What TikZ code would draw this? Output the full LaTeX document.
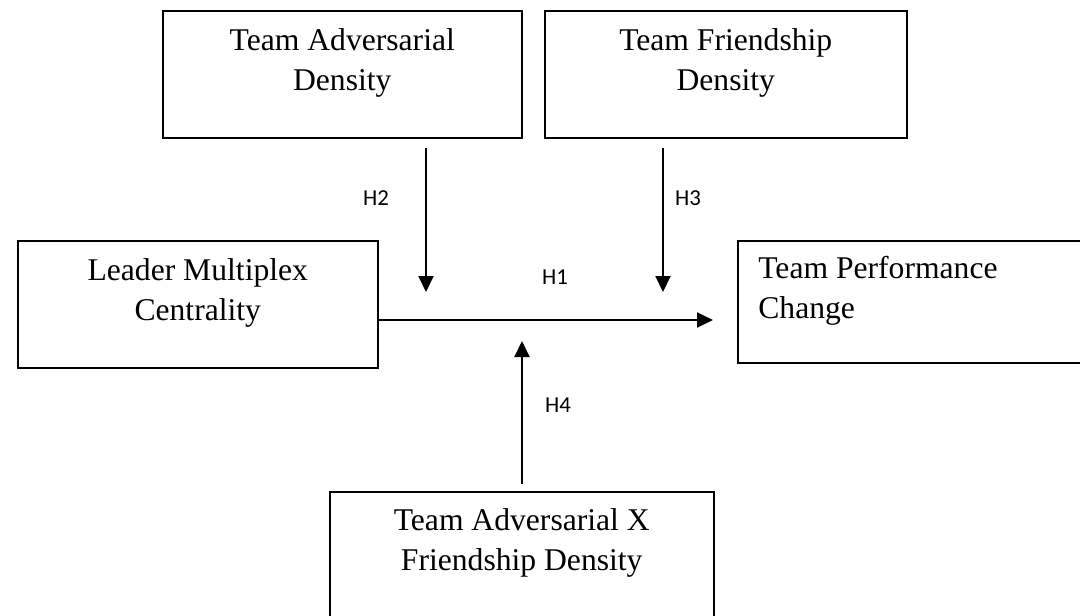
\documentclass[tikz,border=0pt]{standalone}
\usepackage{fontspec}
\setmainfont{Liberation Serif}
\newfontfamily\hypfont{Carlito}
\usetikzlibrary{arrows.meta}
\usetikzlibrary{calc}
\tikzset{
  box/.style={draw, line width=0.9pt, inner sep=0pt, anchor=north west},
  boxtext/.style={inner sep=0pt, anchor=base, align=center, font=\fontsize{18}{23.3}\selectfont},
  hyplabel/.style={inner sep=0pt, font=\hypfont\fontsize{13}{15}\selectfont},
  hyp/.style={line width=1.1pt, -{Triangle[length=0.32cm,width=0.3cm]}}
}

\begin{document}
\begin{tikzpicture}[x=0.02cm,y=-0.02cm]
  \clip (0,0) rectangle (1080,616);
  % boxes
  \node[box,minimum width=7.18cm,minimum height=2.54cm] (adv) at (162,10) {};
  \node[box,minimum width=7.24cm,minimum height=2.54cm] (friend) at (544,10) {};
  \node[box,minimum width=7.2cm,minimum height=2.54cm] (lead) at (17,240) {};
  \node[box,minimum width=7.0cm,minimum height=2.44cm] (perf) at (737,240) {};
  \node[box,minimum width=7.68cm,minimum height=2.68cm] (inter) at (329,491) {};
  % base is the last line, so go two lines down
  \node[boxtext] (advtext) at ([yshift=-1.62cm]adv.north) {Team Adversarial\\Density};
  \node[boxtext] (friendtext) at ([yshift=-1.62cm]friend.north) {Team Friendship\\Density};
  \node[boxtext] (leadtext) at ([yshift=-1.62cm]lead.north) {Leader Multiplex\\Centrality};
  \node[boxtext,anchor=base west,align=left] (perftext) at ([xshift=0.42cm,yshift=-1.58cm]perf.north west) {Team Performance\\Change};
  \node[boxtext] (intertext) at ([yshift=-1.6cm]inter.north) {Team Adversarial X\\Friendship Density};
  % hypotheses
  \coordinate (h1end) at (713,320);
  \coordinate (h2top) at (426,148);
  \coordinate (h2end) at (426,292);
  \coordinate (h3top) at (663,148);
  \coordinate (h3end) at (663,292);
  \coordinate (h4bot) at (522,484);
  \coordinate (h4end) at (522,341);
  \draw[hyp] (lead.east |- h1end) -- (h1end);
  \draw[hyp] (h2top) -- (h2end);
  \draw[hyp] (h3top) -- (h3end);
  \draw[hyp] (h4bot) -- (h4end);
  \node[hyplabel] (h1) at (555,277) {H1};
  \node[hyplabel] (h2) at (376,198) {H2};
  \node[hyplabel] (h3) at (688,198) {H3};
  \node[hyplabel] (h4) at (558,405) {H4};
\end{tikzpicture}
\end{document}
